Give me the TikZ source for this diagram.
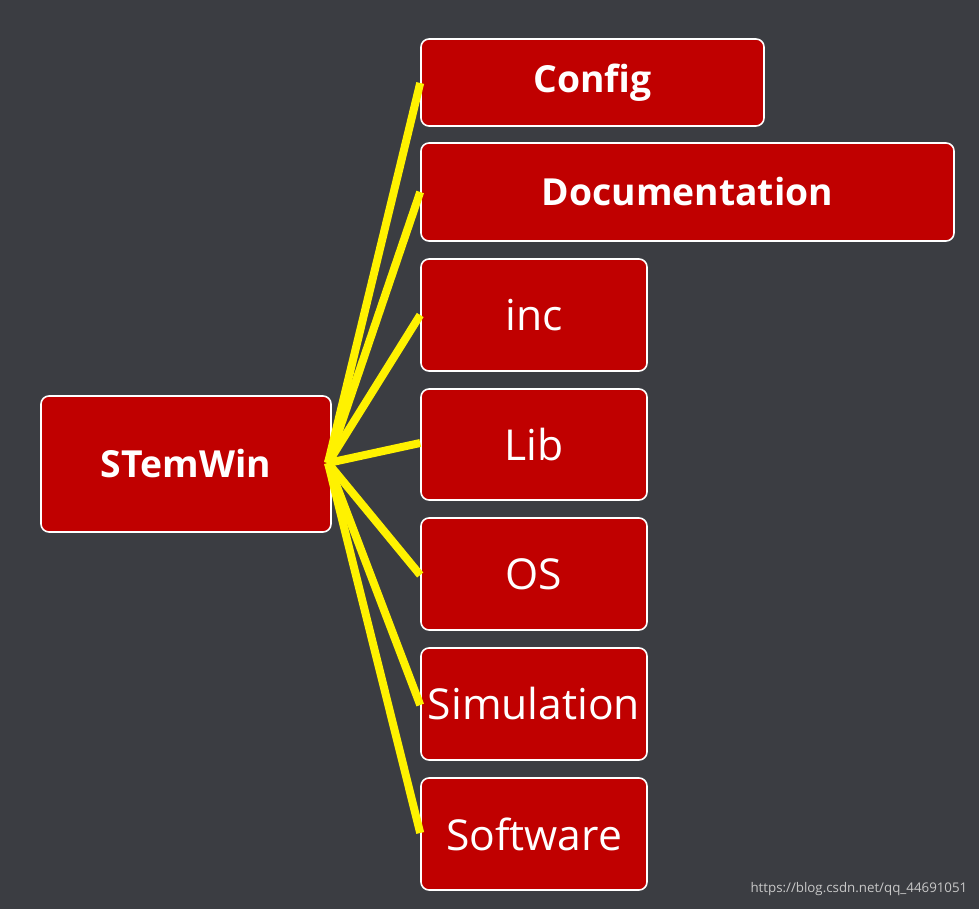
\documentclass[tikz,border=0pt]{standalone}
\usepackage{fontspec}
\setmainfont{Open Sans}
\begin{document}
\begin{tikzpicture}[x=0.0264cm,y=-0.0264cm,
  box/.style={draw=white,line width=1.2pt,fill={rgb,255:red,192;green,0;blue,0},rounded corners=6pt,text=white,inner sep=0pt},
  link/.style={draw=yellow,line width=6pt}]
\fill[fill={rgb,255:red,59;green,61;blue,66}] (0,0) rectangle (979,909);
\useasboundingbox (0,0) rectangle (979,909);
\newcommand\bx[7]{\node[box,minimum width=(#4-#2)*0.0264cm,minimum height=(#5-#3)*0.0264cm,font=#6] (#1) at ({(#2+#4)/2},{(#3+#5)/2}) {#7};}
\bx{root}{41}{396}{331}{532}{\fontsize{28}{32}\selectfont\bfseries}{STemWin}
\bx{config}{421}{39}{764}{126}{\fontsize{28}{32}\selectfont\bfseries}{Config}
\bx{doc}{421}{143}{954}{241}{\fontsize{28}{32}\selectfont\bfseries}{Documentation}
\bx{inc}{421}{259}{647}{371}{\fontsize{32}{36}\selectfont}{inc}
\bx{lib}{421}{389}{647}{500}{\fontsize{32}{36}\selectfont}{Lib}
\bx{os}{421}{518}{647}{630}{\fontsize{32}{36}\selectfont}{OS}
\bx{sim}{421}{648}{647}{760}{\fontsize{32}{36}\selectfont}{Simulation}
\bx{soft}{421}{778}{647}{890}{\fontsize{32}{36}\selectfont}{Software}
\coordinate (o) at (328,463);
\foreach \n/\y in {config/83,doc/192,inc/315,lib/443,os/575,sim/705,soft/833}
  \draw[link] (o) -- (\n.west |- 0,\y);
\node[text={rgb,255:red,200;green,200;blue,200},font=\fontsize{10}{12}\selectfont,anchor=east] (wm) at (972,889) {https://blog.csdn.net/qq\_44691051};
\end{tikzpicture}
\end{document}
